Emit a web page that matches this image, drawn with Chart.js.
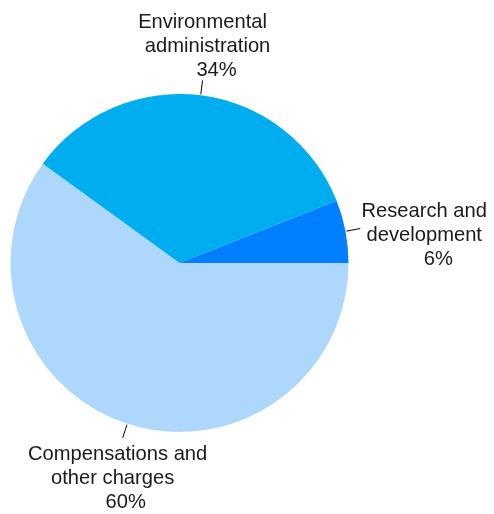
<!DOCTYPE html>
<html>
<head>
<meta charset="utf-8">
<script src="https://cdn.jsdelivr.net/npm/chart.js@4/dist/chart.umd.min.js"></script>
<style>
  html, body { margin: 0; padding: 0; background: #fff; }
  canvas { display: block; }
</style>
</head>
<body>
<canvas id="pie" width="494" height="514"></canvas>
<script>
// data, clockwise from 3 o'clock
const categories = ['Compensations and other charges', 'Environmental administration', 'Research and development'];
const labelLines = [
    ['Compensations and', 'other charges', '60%'],
    ['Environmental', 'administration', '34%'],
    ['Research and', 'development', '6%']
];
const shares = [60, 34, 6];
const colors = ['#add8fb', '#00adef', '#0080ff'];

// where each label block sits relative to the end of its leader line
const labelPlacement = [
    { dx: [-5, -10, 3], dy: 22 },     // below
    { dx: [0, 5, 14], dy: -52 },      // above
    { dx: [64, 64, 78], dy: -12 }     // right
];

const leaderLabels = {
    id: 'leaderLabels',
    afterDraw(chart) {
        const ctx = chart.ctx;
        const meta = chart.getDatasetMeta(0);
        ctx.save();
        ctx.font = '21px "Liberation Sans", Arial, sans-serif';
        ctx.fillStyle = '#1a1a1a';
        ctx.strokeStyle = '#000';
        ctx.lineWidth = 1;
        ctx.textAlign = 'center';
        ctx.textBaseline = 'alphabetic';
        meta.data.forEach(function(arc, i) {
            const mid = (arc.startAngle + arc.endAngle) / 2;
            const cos = Math.cos(mid), sin = Math.sin(mid);
            const x0 = arc.x + cos * (arc.outerRadius + 1);
            const y0 = arc.y + sin * (arc.outerRadius + 1);
            const x1 = arc.x + cos * (arc.outerRadius + 15);
            const y1 = arc.y + sin * (arc.outerRadius + 15);
            ctx.beginPath();
            ctx.moveTo(x0, y0);
            ctx.lineTo(x1, y1);
            ctx.stroke();
            const p = labelPlacement[i];
            labelLines[i].forEach(function(line, j) {
                ctx.save();
                ctx.translate(x1 + p.dx[j], y1 + p.dy + j * 24);
                ctx.scale(0.96, 1);
                ctx.fillText(line, 0, 0);
                ctx.restore();
            });
        });
        ctx.restore();
    }
};

new Chart('pie', {
    type: 'pie',
    data: {
        labels: categories,
        datasets: [{
            data: shares,
            backgroundColor: colors,
            borderWidth: 0
        }]
    },
    options: {
        responsive: false,
        animation: false,
        rotation: 90,
        layout: { padding: { left: 10, right: 145, top: 94, bottom: 82 } },
        plugins: {
            legend: { display: false },
            tooltip: { enabled: false }
        }
    },
    plugins: [leaderLabels]
});
</script>
</body>
</html>
